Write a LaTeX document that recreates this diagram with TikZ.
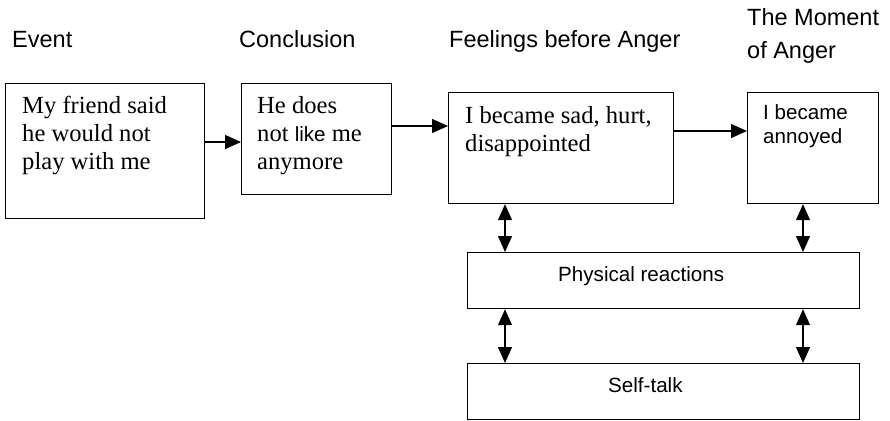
\documentclass[tikz,border=0pt]{standalone}
\usepackage{fontspec}
\setmainfont{Liberation Serif}
\setsansfont{Liberation Sans}
\usetikzlibrary{arrows.meta}
\newcommand{\serifsz}{\fontsize{24.6pt}{28pt}\selectfont}
\newcommand{\sanssz}{\sffamily\fontsize{20.6pt}{24pt}\selectfont}
\newcommand{\labsz}{\sffamily\fontsize{23.5pt}{33pt}\selectfont}
\tikzset{
  box/.style={draw, line width=1.2pt, inner sep=0pt, anchor=north west},
  txt/.style={anchor=base west, inner sep=0pt},
  tip/.tip={Triangle[length=16pt,width=14pt]},
  arr/.style={line width=1.2pt, -tip},
  darr/.style={line width=1.2pt, tip-tip}
}
\begin{document}
\begin{tikzpicture}[x=1pt,y=-1pt]
\useasboundingbox (0,0) rectangle (890,420);
% headings
\node[txt] (h1) at (12,48) {\labsz Event};
\node[txt] (h2) at (239,48) {\labsz Conclusion};
\node[txt] (h3) at (449,48) {\labsz Feelings before Anger};
\node[txt] (h4) at (747,26) {\labsz\parbox[t]{150pt}{The Moment\\of Anger}};
% boxes
\node[box, minimum width=199pt, minimum height=135pt] (b1) at (5,83) {};
\node[box, minimum width=150pt, minimum height=111pt] (b2) at (241,83) {};
\node[box, minimum width=225pt, minimum height=111pt] (b3) at (448,92) {};
\node[box, minimum width=131pt, minimum height=111pt] (b4) at (747,92) {};
\node[box, minimum width=392pt, minimum height=56pt] (b5) at (467,252) {};
\node[box, minimum width=392pt, minimum height=56pt] (b6) at (467,363) {};
% box texts
\node[txt] (t1) at (22,113) {\serifsz\parbox[t]{180pt}{My friend said\\he would not\\play with me}};
\node[txt] (t2) at (257,113) {\serifsz\parbox[t]{130pt}{He does\\not {\sffamily\fontsize{20.6pt}{28pt}\selectfont like} me\\anymore}};
\node[txt] (t3) at (465,123) {\serifsz\parbox[t]{205pt}{I became sad, hurt,\\disappointed}};
\node[txt] (t4) at (763,119) {\sanssz\parbox[t]{110pt}{I became\\annoyed}};
\node[txt] (t5) at (558,281) {\sanssz Physical reactions};
\node[txt] (t6) at (608,392) {\sanssz Self-talk};
% connectors
\draw[arr] (b1.east |- 0,142) -- (b2.west |- 0,142);
\draw[arr] (b2.east |- 0,126) -- (b3.west |- 0,126);
\draw[arr] (b3.east |- 0,131) -- (b4.west |- 0,131);
\draw[darr] (b3.south -| 505,0) -- (b5.north -| 505,0);
\draw[darr] (b4.south -| 803,0) -- (b5.north -| 803,0);
\draw[darr] (b5.south -| 505,0) -- (b6.north -| 505,0);
\draw[darr] (b5.south -| 803,0) -- (b6.north -| 803,0);
\end{tikzpicture}
\end{document}
